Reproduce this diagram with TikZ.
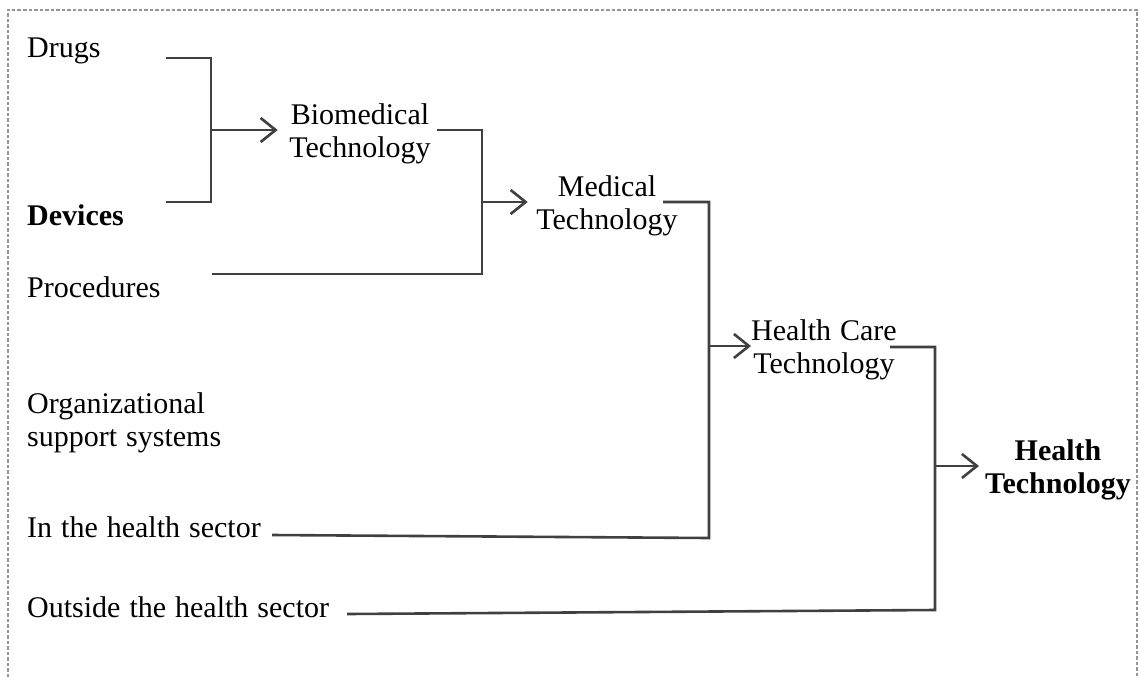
\documentclass[tikz,border=0pt]{standalone}
\usepackage{fontspec}
\setmainfont{Liberation Serif}[WordSpace=1.2]
\usepackage{xcolor}
\usetikzlibrary{arrows.meta}

\definecolor{linegray}{HTML}{404040}
\definecolor{framegray}{HTML}{959595}
\newcommand{\diafont}{\fontsize{30}{33.5}\selectfont}

\begin{document}
\begin{tikzpicture}[x=1pt,y=-1pt,
 	link/.style={draw=linegray,line width=2.6pt},
 	arr/.style={link,-{Straight Barb[length=15pt,width=24pt]},shorten >=10pt},
 	lbl/.style={anchor=base west},
 	tech/.style={align=center}]
 	\tikzstyle{every node}+=[inner sep=0pt,font=\diafont]
 	\useasboundingbox (0,0) rectangle (1139,677);
 	\draw [framegray,line width=1.2pt,dash pattern=on 3.5pt off 2pt] (8,677) -- (8,10) -- (1137,10) -- (1137,677);
 	% left labels
 	\node [lbl] (drugs) at (27,57) {Drugs};
 	\node [lbl,font=\diafont\bfseries] (devices) at (27,225) {Devices};
 	\node [lbl] (proc) at (27,297) {Procedures};
 	\node [lbl,align=left,anchor=north west] (org) at (27,392) {Organizational\\support systems};
 	\node [lbl] (inhs) at (27,537) {In the health sector};
 	\node [lbl] (ouths) at (27,617) {Outside the health sector};
 	% technologies
 	\node [tech] (biomed) at (360,134) {Biomedical\\Technology};
 	\node [tech] (medical) at (607,206) {Medical\\Technology};
 	\node [tech] (hcare) at (824,350) {Health Care\\Technology};
 	\node [tech,font=\diafont\bfseries] (htech) at (1058,470) {Health\\Technology};
 	% junctions and free ends
 	\coordinate (j1) at (211,130);
 	\coordinate (j2) at (482,202);
 	\coordinate (j3) at (709,346);
 	\coordinate (j4) at (935,466);
 	\coordinate (drugsIn) at (166,58);
 	\coordinate (devicesIn) at (166,202);
 	\coordinate (biomedOut) at (437,130);
 	\coordinate (procIn) at (212,274);
 	\coordinate (medOut) at (663,202);
 	\coordinate (inhsIn) at (272,535);
 	\coordinate (hcareOut) at (890,347);
 	\coordinate (outhsIn) at (347,614);
 	% brackets
 	\draw [link] (drugsIn) -| (j1) |- (devicesIn);
 	\draw [arr,shorten >=11.5pt] (j1) -- (j1 -| biomed.west);
 	\draw [link] (biomedOut) -| (j2) |- (procIn);
 	\draw [arr,shorten >=8.5pt] (j2) -- (j2 -| medical.west);
 	\draw [link] (medOut) -| (j3) -- (709,538) -- (inhsIn);
 	\draw [arr,shorten >=0pt] (j3) -- (j3 -| hcare.west);
 	\draw [link] (hcareOut) -| (j4) -- (935,610) -- (outhsIn);
 	\draw [arr,shorten >=6pt] (j4) -- (j4 -| htech.west);
\end{tikzpicture}
\end{document}
